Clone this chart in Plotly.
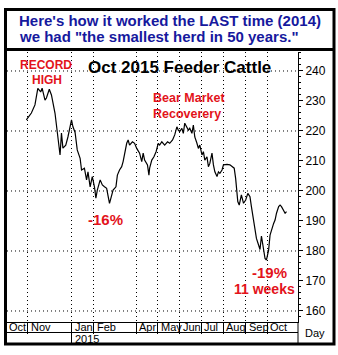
import plotly.graph_objects as go

# ---------------- data ----------------
dates = [
    "2014-10-30","2014-11-06","2014-11-11","2014-11-15","2014-11-19","2014-11-21","2014-11-25","2014-11-27","2014-12-01","2014-12-04",
    "2014-12-09","2014-12-11","2014-12-13","2014-12-16","2014-12-18","2014-12-20","2014-12-24","2014-12-27","2015-01-01","2015-01-03",
    "2015-01-06","2015-01-09","2015-01-13","2015-01-15","2015-01-19","2015-01-22","2015-01-24","2015-01-27","2015-01-30","2015-02-02",
    "2015-02-04","2015-02-06","2015-02-10","2015-02-13","2015-02-16","2015-02-19","2015-02-23","2015-02-26","2015-02-28","2015-03-04",
    "2015-03-06","2015-03-09","2015-03-12","2015-03-14","2015-03-16","2015-03-19","2015-03-21","2015-03-23","2015-03-27","2015-03-30",
    "2015-04-02","2015-04-06","2015-04-09","2015-04-11","2015-04-13","2015-04-17","2015-04-19","2015-04-20","2015-04-23","2015-04-26",
    "2015-04-29","2015-05-02","2015-05-04","2015-05-07","2015-05-11","2015-05-15","2015-05-18","2015-05-22","2015-05-25","2015-05-28",
    "2015-05-30","2015-06-01","2015-06-04","2015-06-06","2015-06-08","2015-06-11","2015-06-13","2015-06-15","2015-06-18","2015-06-20",
    "2015-06-22","2015-06-25","2015-06-27","2015-06-29","2015-07-02","2015-07-04","2015-07-06","2015-07-09","2015-07-11","2015-07-13",
    "2015-07-16","2015-07-18","2015-07-20","2015-07-23","2015-07-25","2015-07-27","2015-07-30","2015-08-01","2015-08-06","2015-08-10",
    "2015-08-13","2015-08-16","2015-08-18","2015-08-20","2015-08-21","2015-08-23","2015-08-25","2015-08-26","2015-08-29","2015-09-01",
    "2015-09-04","2015-09-07","2015-09-09","2015-09-12","2015-09-14","2015-09-16","2015-09-19","2015-09-21","2015-09-23","2015-09-26",
    "2015-09-28","2015-09-30","2015-10-03","2015-10-05","2015-10-07","2015-10-10","2015-10-12","2015-10-14","2015-10-17","2015-10-19",
    "2015-10-21","2015-10-24","2015-10-26","2015-10-28",
]
prices = [
    223.7,226.0,228.7,234.2,233.0,234.3,230.3,231.0,233.9,232.0,
    225.9,221.4,218.0,212.0,219.3,214.3,215.3,218.0,223.7,221.4,
    219.5,213.7,210.9,207.0,207.6,203.7,206.4,201.4,204.8,201.4,
    197.6,200.3,203.7,202.0,201.4,200.9,195.9,198.1,200.3,201.4,
    205.3,207.0,208.1,209.8,212.6,215.9,217.0,215.3,216.4,215.9,
    214.2,212.6,209.8,212.6,210.3,208.7,205.3,207.6,210.3,211.4,
    213.1,215.9,215.3,216.4,215.3,216.4,215.9,217.0,218.7,221.4,
    220.3,219.8,220.9,219.2,222.6,221.4,220.3,220.9,219.2,222.0,
    218.0,215.9,214.2,215.3,212.0,213.1,210.3,211.4,208.1,209.2,
    212.6,208.7,206.4,204.8,206.4,205.9,207.0,208.7,208.9,208.7,
    208.1,207.6,204.2,200.3,196.5,195.3,197.6,198.7,195.9,197.0,
    199.2,198.1,194.8,190.3,187.0,184.2,182.0,180.5,185.0,181.0,
    177.5,177.0,180.3,185.3,187.0,189.2,190.3,192.6,194.8,195.3,
    194.8,193.1,192.6,193.1,
]

month_ticks = ["2014-11-01","2015-01-01","2015-02-01","2015-04-01","2015-05-01",
               "2015-06-01","2015-07-01","2015-08-01","2015-09-01","2015-10-01"]
month_labels = ["Nov","Jan","Feb","Apr","May","Jun","Jul","Aug","Sep","Oct"]
first_label = "Oct"
year_tick = "2015-01-01"
year_label = "2015"
y_ticks = [160, 170, 180, 190, 200, 210, 220, 230, 240]
y_grid = [160, 180, 200, 220, 240]

title_lines = ["Here's how it worked the LAST time (2014)",
               'we had "the smallest herd in 50 years."']
chart_title = "Oct 2015 Feeder Cattle"

# ---------------- layout geometry ----------------
W, H = 338, 355
L, R, T, B = 7, 298, 52, 322     # plot area in pixels
PW, PH = R - L, B - T

def px(x):
    return (x - L) / PW

def py(y):
    return (B - y) / PH

RED = "#e3131b"
BLUE = "#16199e"
FONT = "Liberation Sans, Arial, sans-serif"

fig = go.Figure()
fig.add_trace(go.Scatter(x=dates, y=prices, mode="lines",
                         line=dict(color="black", width=1.2),
                         hoverinfo="skip", showlegend=False))

shapes = []
# horizontal dotted grid
for g in y_grid:
    shapes.append(dict(type="line", xref="paper", yref="y", x0=0, x1=1, y0=g, y1=g,
                       line=dict(color="black", width=1, dash="1px,3px"), layer="below"))
# outer frame
shapes.append(dict(type="rect", xref="paper", yref="paper",
                   x0=px(5.5), x1=px(334), y0=py(9.5), y1=py(344),
                   line=dict(color="black", width=3)))
# title separator
shapes.append(dict(type="line", xref="paper", yref="paper",
                   x0=px(5.5), x1=px(334), y0=py(49.5), y1=py(49.5),
                   line=dict(color="black", width=3)))
# bottom of month band
shapes.append(dict(type="line", xref="paper", yref="paper",
                   x0=px(7), x1=1, y0=py(332.5), y1=py(332.5),
                   line=dict(color="black", width=1)))
# year separator
shapes.append(dict(type="line", xref="x", yref="paper",
                   x0=year_tick, x1=year_tick, y0=py(322), y1=py(343),
                   line=dict(color="black", width=1)))
# right axis extension down to the frame
shapes.append(dict(type="line", xref="paper", yref="paper",
                   x0=1, x1=1, y0=py(322), y1=py(343),
                   line=dict(color="black", width=1)))

ann = []
def text(s, x, y, size, color="black", bold=False, xanchor="center", yanchor="middle"):
    ann.append(dict(text=f"<b>{s}</b>" if bold else s, x=px(x), y=py(y),
                    xref="paper", yref="paper", showarrow=False,
                    xanchor=xanchor, yanchor=yanchor,
                    font=dict(family=FONT, size=size, color=color)))

text(title_lines[0], 17, 20, 15, BLUE, True, xanchor="left")
text(title_lines[1], 17, 37, 15, BLUE, True, xanchor="left")
text(chart_title, 86, 67, 17, "black", True, xanchor="left")
text("RECORD", 46, 65, 12, RED, True)
text("HIGH", 47, 80, 12, RED, True)
text("Bear Market", 151, 98, 12.5, RED, True, xanchor="left")
text("Recoverery", 151, 114, 12.5, RED, True, xanchor="left")
text("-16%", 105.5, 219, 15, RED, True)
text("-19%", 269.5, 272, 15, RED, True)
text("11 weeks", 264.5, 289, 14, RED, True)
text("Day", 303, 333, 11, "black", False, xanchor="left")
text(first_label, 7, 327, 11, "black", False, xanchor="left")
text(year_label, 73, 338.5, 11, "black", False, xanchor="left")
for d, lab in zip(month_ticks, month_labels):
    ann.append(dict(text=lab, x=d, xref="x", y=py(327), yref="paper",
                    showarrow=False, xanchor="left", yanchor="middle", xshift=1,
                    font=dict(family=FONT, size=11, color="black")))

fig.update_layout(
    width=W, height=H, autosize=False,
    margin=dict(l=L, r=W - R, t=T, b=H - B, pad=0),
    paper_bgcolor="white", plot_bgcolor="white",
    shapes=shapes, annotations=ann,
    xaxis=dict(type="date", range=["2014-10-03", "2015-11-13"],
               tickvals=month_ticks, showticklabels=False,
               ticks="outside", ticklen=11, tickcolor="black", tickwidth=1,
               showgrid=True, gridcolor="black", gridwidth=1, griddash="1px,3px",
               showline=True, linecolor="black", linewidth=1,
               zeroline=False, fixedrange=True),
    yaxis=dict(range=[156.33, 246.33], side="right",
               tickvals=y_ticks, ticks="outside", ticklen=4, tickcolor="black",
               tickfont=dict(family=FONT, size=12, color="black"),
               minor=dict(dtick=2, ticks="outside", ticklen=2, tickcolor="black"),
               showgrid=False, showline=True, linecolor="black", linewidth=1,
               zeroline=False, fixedrange=True),
    font=dict(family=FONT),
)

fig.write_html("out.html")
